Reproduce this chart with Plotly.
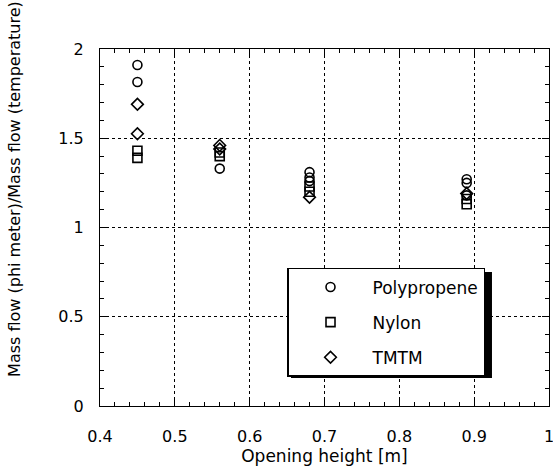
import plotly.graph_objects as go

# Data
poly_x = [0.45, 0.45, 0.56, 0.68, 0.68, 0.68, 0.89, 0.89, 0.89]
poly_y = [1.91, 1.815, 1.33, 1.31, 1.28, 1.26, 1.27, 1.25, 1.18]

nylon_x = [0.45, 0.45, 0.56, 0.56, 0.68, 0.68, 0.89, 0.89]
nylon_y = [1.43, 1.39, 1.42, 1.40, 1.23, 1.20, 1.16, 1.13]

tmtm_x = [0.45, 0.45, 0.56, 0.56, 0.68, 0.89]
tmtm_y = [1.69, 1.525, 1.46, 1.44, 1.17, 1.19]

x_ticks = [0.4, 0.5, 0.6, 0.7, 0.8, 0.9, 1.0]
x_ticklabels = ["0.4", "0.5", "0.6", "0.7", "0.8", "0.9", "1"]
y_ticks = [0, 0.5, 1, 1.5, 2]
y_ticklabels = ["0", "0.5", "1", "1.5", "2"]

FONT = "DejaVu Sans"

fig = go.Figure()
series = [
    ("Polypropene", poly_x, poly_y, "circle-open", 9),
    ("Nylon", nylon_x, nylon_y, "square-open", 9),
    ("TMTM", tmtm_x, tmtm_y, "diamond-open", 9),
]
for name, xs, ys, sym, sz in series:
    fig.add_trace(go.Scatter(
        x=xs, y=ys, mode="markers", name=name, legendgroup=name,
        marker=dict(symbol=sym, size=sz, color="black", line=dict(color="black", width=1.6)),
    ))

axis_common = dict(
    showline=True, linecolor="black", linewidth=1.2, mirror="allticks",
    ticks="inside", ticklen=7, tickwidth=1.2, tickcolor="black",
    showgrid=True, gridcolor="black", griddash="dot", gridwidth=1,
    zeroline=False, tickfont=dict(family=FONT, size=16, color="black"),
    ticklabeloverflow="allow",
)

fig.update_xaxes(
    range=[0.4, 1.0], tickvals=x_ticks, ticktext=x_ticklabels,
    ticklabelstandoff=16,
    minor=dict(dtick=0.02, ticks="inside", ticklen=4, tickcolor="black", tickwidth=1, showgrid=False),
    title=dict(text="Opening height [m]", font=dict(family=FONT, size=17, color="black"), standoff=2),
    automargin=False,
    **axis_common,
)
fig.update_yaxes(
    range=[0, 2], tickvals=y_ticks, ticktext=y_ticklabels,
    ticklabelstandoff=12,
    minor=dict(dtick=0.1, ticks="inside", ticklen=4, tickcolor="black", tickwidth=1, showgrid=False),
    automargin=False,
    **axis_common,
)

fig.add_annotation(
    text="Mass flow (phi meter)/Mass flow (temperature)",
    xref="paper", yref="paper", x=-0.19, y=0.075, xanchor="center", yanchor="bottom",
    textangle=-90, showarrow=False, font=dict(family=FONT, size=16, color="black"),
)

# legend drop shadow
fig.add_shape(type="rect", xref="paper", yref="paper",
              x0=0.4254, x1=0.873, y0=0.0784, y1=0.3754,
              fillcolor="black", line=dict(width=0), layer="above")

fig.update_layout(
    width=553, height=471,
    margin=dict(l=100, r=4, t=49, b=65, autoexpand=False),
    paper_bgcolor="white", plot_bgcolor="white",
    showlegend=True,
    legend=dict(
        x=0.4165, y=0.3866, xanchor="left", yanchor="top",
        bgcolor="white", bordercolor="black", borderwidth=1.5,
        font=dict(family=FONT, size=17, color="black"),
        traceorder="grouped", tracegroupgap=10, itemwidth=74,
    ),
)

fig.write_html("out.html")
